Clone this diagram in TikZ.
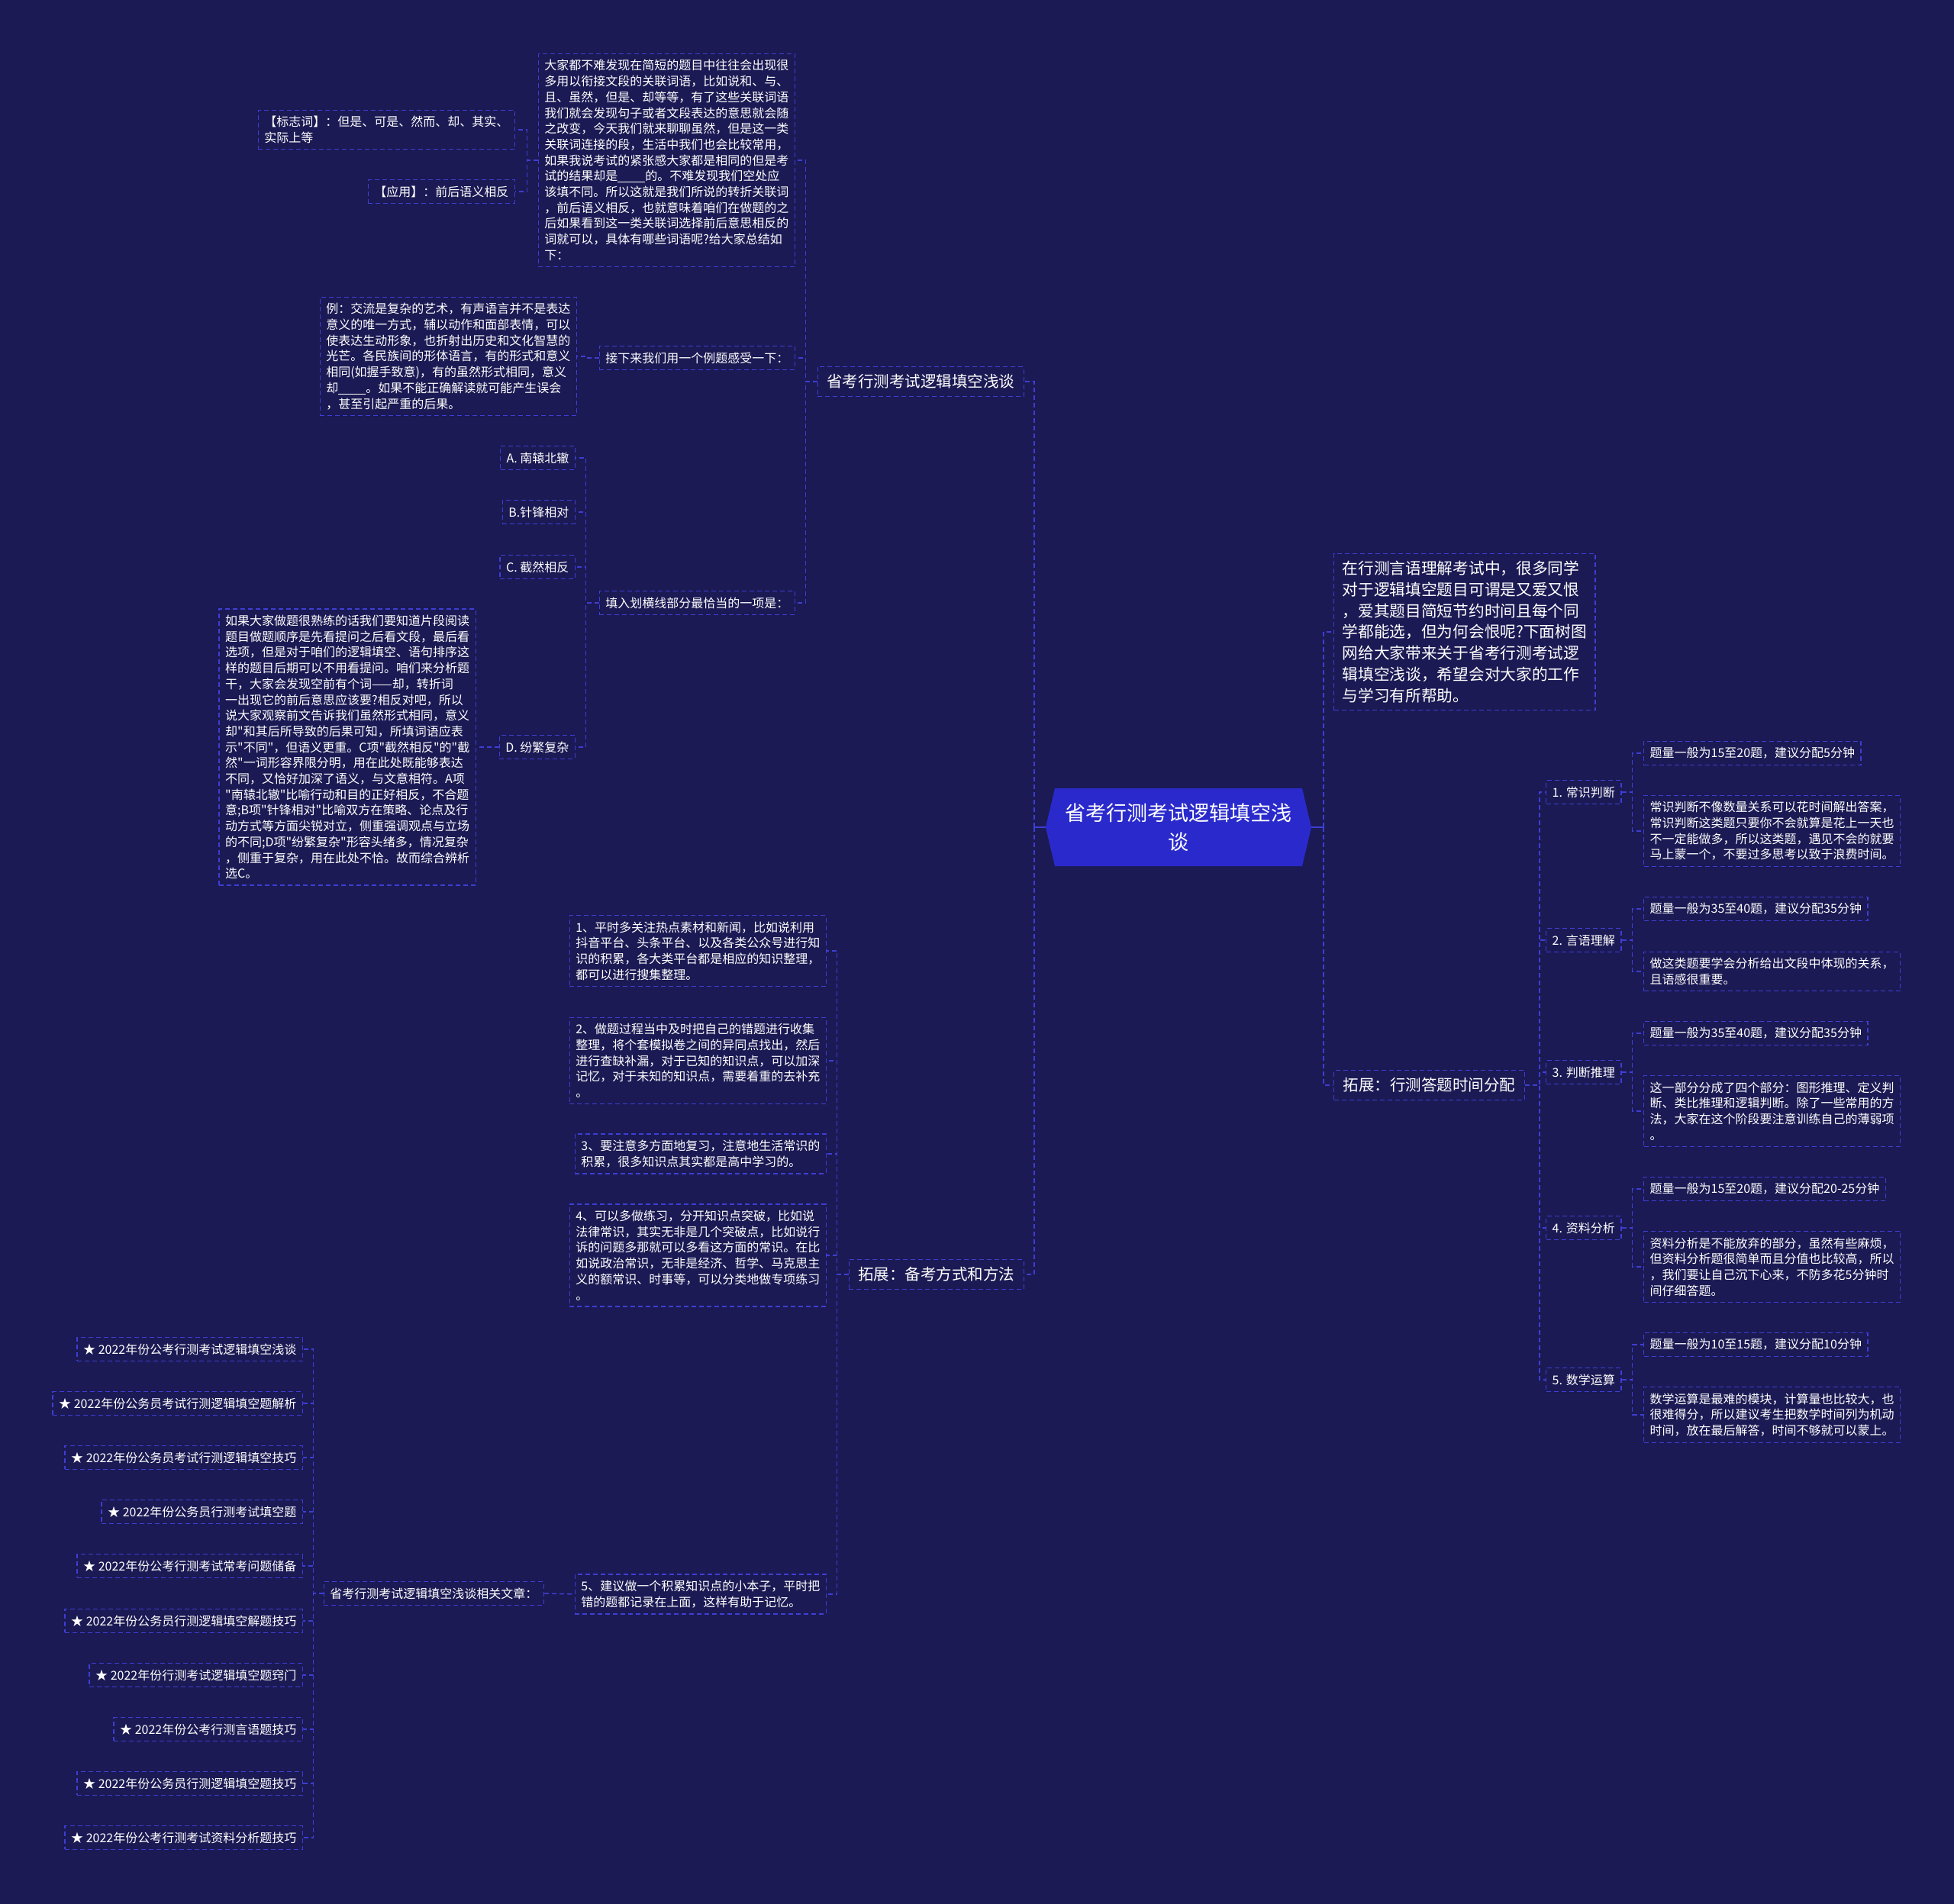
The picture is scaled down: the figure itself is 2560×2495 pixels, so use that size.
\documentclass[tikz,border=0pt]{standalone}
\usepackage{fontspec}
\newfontfamily\cjk{Noto Sans CJK SC}
\usetikzlibrary{calc}
\definecolor{bg}{RGB}{27,26,84}
\definecolor{lineblue}{RGB}{62,62,212}
\definecolor{rootfill}{RGB}{42,42,204}
\newcommand{\blank}{\rule[-2pt]{36pt}{0.8pt}}
\tikzset{
  box/.style={draw=lineblue, dash pattern=on 6pt off 4pt, line width=1.4pt, text=white,
    align=left, inner xsep=8pt, inner ysep=8pt, font=\cjk\fontsize{16pt}{20.7pt}\selectfont},
  bigbox/.style={box, inner xsep=12pt, inner ysep=10pt, font=\cjk\fontsize{20.5pt}{27.7pt}\selectfont},
  conn/.style={draw=lineblue, dash pattern=on 6pt off 4pt, line width=1.4pt},
  solidconn/.style={draw=lineblue, line width=2.2pt},
}
\begin{document}
\begin{tikzpicture}[x=1pt,y=-1pt]
\fill[bg] (0,0) rectangle (2560,2495);
\useasboundingbox (0,0) rectangle (2560,2495);

% ---------- root ----------
\fill[rootfill] (1382,1033) -- (1706,1033) -- (1718,1084) -- (1706,1135) -- (1382,1135) -- (1370,1084) -- cycle;
\node[text=white, align=center, font=\cjk\fontsize{27pt}{38pt}\selectfont] (root) at (1544,1084) {省考行测考试逻辑填空浅\\谈};
\coordinate (rootL) at (1370,1084);
\coordinate (rootR) at (1718,1084);
\coordinate (busL) at (1355,1084);
\coordinate (busR) at (1734,1084);

% ---------- left main branches ----------
\node[bigbox, anchor=east] (A) at (1342,500) {省考行测考试逻辑填空浅谈};
\node[bigbox, anchor=east] (B) at (1342,1670) {拓展：备考方式和方法};

% children of A
\node[box, anchor=east] (a1) at (1042,210) {大家都不难发现在简短的题目中往往会出现很\\多用以衔接文段的关联词语，比如说和、与、\\且、虽然，但是、却等等，有了这些关联词语\\我们就会发现句子或者文段表达的意思就会随\\之改变，今天我们就来聊聊虽然，但是这一类\\关联词连接的段，生活中我们也会比较常用，\\如果我说考试的紧张感大家都是相同的但是考\\试的结果却是\blank 的。不难发现我们空处应\\该填不同。所以这就是我们所说的转折关联词\\，前后语义相反，也就意味着咱们在做题的之\\后如果看到这一类关联词选择前后意思相反的\\词就可以，具体有哪些词语呢?给大家总结如\\下：};
\node[box, anchor=east] (a2) at (1042,469) {接下来我们用一个例题感受一下：};
\node[box, anchor=east] (a3) at (1042,790) {填入划横线部分最恰当的一项是：};

% children of a1
\node[box, anchor=east] (a1a) at (675,170) {【标志词】：但是、可是、然而、却、其实、\\实际上等};
\node[box, anchor=east] (a1b) at (675,251) {【应用】：前后语义相反};

% child of a2
\node[box, anchor=east] (ex) at (756,467) {例：交流是复杂的艺术，有声语言并不是表达\\意义的唯一方式，辅以动作和面部表情，可以\\使表达生动形象，也折射出历史和文化智慧的\\光芒。各民族间的形体语言，有的形式和意义\\相同(如握手致意)，有的虽然形式相同，意义\\却\blank 。如果不能正确解读就可能产生误会\\，甚至引起严重的后果。};

% children of a3
\node[box, anchor=east] (oA) at (754,600) {A. 南辕北辙};
\node[box, anchor=east] (oB) at (754,671) {B.针锋相对};
\node[box, anchor=east] (oC) at (754,743) {C. 截然相反};
\node[box, anchor=east] (oD) at (754,979) {D. 纷繁复杂};
\node[box, anchor=east] (dtxt) at (624,979) {如果大家做题很熟练的话我们要知道片段阅读\\题目做题顺序是先看提问之后看文段，最后看\\选项，但是对于咱们的逻辑填空、语句排序这\\样的题目后期可以不用看提问。咱们来分析题\\干，大家会发现空前有个词——却，转折词\\一出现它的前后意思应该要?相反对吧，所以\\说大家观察前文告诉我们虽然形式相同，意义\\却"和其后所导致的后果可知，所填词语应表\\示"不同"，但语义更重。C项"截然相反"的"截\\然"一词形容界限分明，用在此处既能够表达\\不同，又恰好加深了语义，与文意相符。A项\\"南辕北辙"比喻行动和目的正好相反，不合题\\意;B项"针锋相对"比喻双方在策略、论点及行\\动方式等方面尖锐对立，侧重强调观点与立场\\的不同;D项"纷繁复杂"形容头绪多，情况复杂\\，侧重于复杂，用在此处不恰。故而综合辨析\\选C。};

% children of B
\node[box, anchor=east] (b1) at (1083,1246) {1、平时多关注热点素材和新闻，比如说利用\\抖音平台、头条平台、以及各类公众号进行知\\识的积累，各大类平台都是相应的知识整理，\\都可以进行搜集整理。};
\node[box, anchor=east] (b2) at (1083,1390) {2、做题过程当中及时把自己的错题进行收集\\整理，将个套模拟卷之间的异同点找出，然后\\进行查缺补漏，对于已知的知识点，可以加深\\记忆，对于未知的知识点，需要着重的去补充\\。};
\node[box, anchor=east] (b3) at (1083,1512) {3、要注意多方面地复习，注意地生活常识的\\积累，很多知识点其实都是高中学习的。};
\node[box, anchor=east] (b4) at (1083,1645) {4、可以多做练习，分开知识点突破，比如说\\法律常识，其实无非是几个突破点，比如说行\\诉的问题多那就可以多看这方面的常识。在比\\如说政治常识，无非是经济、哲学、马克思主\\义的额常识、时事等，可以分类地做专项练习\\。};
\node[box, anchor=east] (b5) at (1083,2089) {5、建议做一个积累知识点的小本子，平时把\\错的题都记录在上面，这样有助于记忆。};

% related articles
\node[box, anchor=east] (rel) at (713,2088) {省考行测考试逻辑填空浅谈相关文章：};
\node[box, anchor=east] (r1) at (397,1768) {★ 2022年份公考行测考试逻辑填空浅谈};
\node[box, anchor=east] (r2) at (397,1839) {★ 2022年份公务员考试行测逻辑填空题解析};
\node[box, anchor=east] (r3) at (397,1910) {★ 2022年份公务员考试行测逻辑填空技巧};
\node[box, anchor=east] (r4) at (397,1981) {★ 2022年份公务员行测考试填空题};
\node[box, anchor=east] (r5) at (397,2052) {★ 2022年份公考行测考试常考问题储备};
\node[box, anchor=east] (r6) at (397,2124) {★ 2022年份公务员行测逻辑填空解题技巧};
\node[box, anchor=east] (r7) at (397,2195) {★ 2022年份行测考试逻辑填空题窍门};
\node[box, anchor=east] (r8) at (397,2266) {★ 2022年份公考行测言语题技巧};
\node[box, anchor=east] (r9) at (397,2337) {★ 2022年份公务员行测逻辑填空题技巧};
\node[box, anchor=east] (r10) at (397,2408) {★ 2022年份公考行测考试资料分析题技巧};

% ---------- right side ----------
\node[bigbox, anchor=west, inner xsep=11pt, font=\cjk\fontsize{20.7pt}{27.7pt}\selectfont] (intro) at (1747,828) {在行测言语理解考试中，很多同学\\对于逻辑填空题目可谓是又爱又恨\\，爱其题目简短节约时间且每个同\\学都能选，但为何会恨呢?下面树图\\网给大家带来关于省考行测考试逻\\辑填空浅谈，希望会对大家的工作\\与学习有所帮助。};
\node[bigbox, anchor=west] (C) at (1747,1422) {拓展：行测答题时间分配};

\node[box, anchor=west] (n1) at (2025,1038) {1. 常识判断};
\node[box, anchor=west] (n2) at (2025,1232) {2. 言语理解};
\node[box, anchor=west] (n3) at (2025,1405) {3. 判断推理};
\node[box, anchor=west] (n4) at (2025,1609) {4. 资料分析};
\node[box, anchor=west] (n5) at (2025,1808) {5. 数学运算};

\node[box, anchor=west] (g1a) at (2153,987) {题量一般为15至20题，建议分配5分钟};
\node[box, anchor=west] (g1b) at (2153,1089) {常识判断不像数量关系可以花时间解出答案，\\常识判断这类题只要你不会就算是花上一天也\\不一定能做多，所以这类题，遇见不会的就要\\马上蒙一个，不要过多思考以致于浪费时间。};
\node[box, anchor=west] (g2a) at (2153,1191) {题量一般为35至40题，建议分配35分钟};
\node[box, anchor=west] (g2b) at (2153,1273) {做这类题要学会分析给出文段中体现的关系，\\且语感很重要。};
\node[box, anchor=west] (g3a) at (2153,1354) {题量一般为35至40题，建议分配35分钟};
\node[box, anchor=west] (g3b) at (2153,1456) {这一部分分成了四个部分：图形推理、定义判\\断、类比推理和逻辑判断。除了一些常用的方\\法，大家在这个阶段要注意训练自己的薄弱项\\。};
\node[box, anchor=west] (g4a) at (2153,1558) {题量一般为15至20题，建议分配20-25分钟};
\node[box, anchor=west] (g4b) at (2153,1660) {资料分析是不能放弃的部分，虽然有些麻烦，\\但资料分析题很简单而且分值也比较高，所以\\，我们要让自己沉下心来，不防多花5分钟时\\间仔细答题。};
\node[box, anchor=west] (g5a) at (2153,1762) {题量一般为10至15题，建议分配10分钟};
\node[box, anchor=west] (g5b) at (2153,1854) {数学运算是最难的模块，计算量也比较大，也\\很难得分，所以建议考生把数学时间列为机动\\时间，放在最后解答，时间不够就可以蒙上。};

% ---------- connectors ----------
\draw[solidconn] (rootL) -- (busL);
\draw[solidconn] (rootR) -- (busR);
\draw[conn] (busL) |- (A.east);
\draw[conn] (busL) |- (B.east);
\draw[conn] (busR) |- (intro.west);
\draw[conn] (busR) |- (C.west);

\foreach \c in {a1,a2,a3} \draw[conn] (A.west) -- ++(-15,0) |- (\c.east);
\foreach \c in {a1a,a1b} \draw[conn] (a1.west) -- ++(-14,0) |- (\c.east);
\draw[conn] (a2.west) -- ++(-16,0) |- (ex.east);
\foreach \c in {oA,oB,oC,oD} \draw[conn] (a3.west) -- ++(-17,0) |- (\c.east);
\draw[conn] (oD.west) -- ++(-15,0) |- (dtxt.east);

\foreach \c in {b1,b2,b3,b4,b5} \draw[conn] (B.west) -- ++(-15,0) |- (\c.east);
\draw[conn] (rel.east) -- (b5.west);
\foreach \c in {r1,r2,r3,r4,r5,r6,r7,r8,r9,r10} \draw[conn] (rel.west) -- ++(-13,0) |- (\c.east);

\foreach \c in {n1,n2,n3,n4,n5} \draw[conn] (C.east) -- ++(19,0) |- (\c.west);
\foreach \p/\q in {n1/g1a,n1/g1b,n2/g2a,n2/g2b,n3/g3a,n3/g3b,n4/g4a,n4/g4b,n5/g5a,n5/g5b}
  \draw[conn] (\p.east) -- ++(14,0) |- (\q.west);
\end{tikzpicture}
\end{document}
